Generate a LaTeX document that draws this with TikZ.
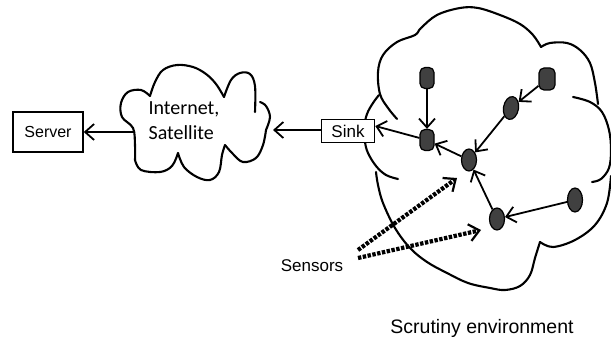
\documentclass[tikz,border=0pt]{standalone}
\usepackage{fontspec}
\setmainfont{Liberation Sans}
\newfontfamily\carlito{Carlito}
\usetikzlibrary{arrows.meta,shapes.geometric,calc}

\tikzset{
  cloudline/.style={line width=2.1pt, line cap=round, line join=round},
  boxnode/.style={draw, line width=1.5pt, inner sep=0pt, fill=white},
  arr/.style={line width=1.8pt, -{Straight Barb[length=9pt,width=16pt,line width=1.8pt]}},
  dotarr/.style={line width=4.2pt, dash pattern=on 3.4pt off 1.5pt,
    -{Straight Barb[length=10pt,width=17pt,line width=2.2pt]}},
  sensor/.style={draw, line width=1.2pt, fill=black!75, ellipse, inner sep=0pt,
    minimum width=15pt, minimum height=22pt},
  sensorbox/.style={draw, line width=1.2pt, fill=black!75, rectangle, rounded corners=5pt,
    inner sep=0pt, minimum width=14pt, minimum height=21pt},
}

\begin{document}
\begin{tikzpicture}[x=1pt, y=-1pt]
\useasboundingbox (0,0) rectangle (611,345);

% ---- Internet / satellite cloud ----
\draw[cloudline] plot[smooth, tension=0.6] coordinates {(255,112) (255,86) (250,74) (240,73) (231,80) (224,97)};
\draw[cloudline] plot[smooth, tension=0.6] coordinates {(224,97) (216,84) (206,74) (193,67) (177,65) (163,70) (155,82) (150,96)};
\draw[cloudline] plot[smooth, tension=0.6] coordinates {(150,96) (141,90) (128,92) (121,103) (122,117) (133,128) (135,145) (135,160)};
\draw[cloudline] plot[smooth, tension=0.6] coordinates {(135,160) (141,170) (160,172) (172,166) (178,153)};
\draw[cloudline] plot[smooth, tension=0.6] coordinates {(178,153) (184,167) (197,177) (210,180) (219,172) (222,155) (225,145)};
\draw[cloudline] plot[smooth, tension=0.6] coordinates {(225,145) (233,154) (243,162) (256,158) (263,145) (266,130)};
\draw[cloudline] plot[smooth, tension=0.6] coordinates {(266,130) (270,117) (266,106) (260,102)};

\node[fill=white, inner sep=1pt, align=left, font=\carlito\fontsize{20}{25}\selectfont]
  (inet) at (184,121) {Internet,\\Satellite};

% ---- scrutiny environment cloud ----
\draw[cloudline] plot[smooth, tension=0.6] coordinates {(397,119) (388,108) (380,94) (378,72) (383,55) (397,42) (415,35) (421,28) (437,15) (460,8) (478,8) (500,15) (520,24) (533,35) (541,47)};
\draw[cloudline] plot[smooth, tension=0.6] coordinates {(541,47) (550,43) (567,43) (580,50) (590,63) (595,83) (598,104)};
\draw[cloudline] plot[smooth, tension=0.6] coordinates {(573,97) (590,102) (602,112) (609,130) (611,150) (609,168) (601,179) (592,182)};
\draw[cloudline] plot[smooth, tension=0.6] coordinates {(611,176) (607,203) (595,225) (575,240) (553,247) (540,242)};
\draw[cloudline] plot[smooth, tension=0.6] coordinates {(540,242) (535,258) (530,275) (520,286) (505,290) (490,288) (468,283) (447,273) (427,262) (410,248) (395,228) (383,203) (378,185) (376,172)};
\draw[cloudline] plot[smooth, tension=0.6] coordinates {(379,95) (373,103) (367,114) (364,128) (365,142) (368,153) (376,166) (386,175) (398,179)};

% ---- boxes ----
\node[boxnode, minimum width=70pt, minimum height=40pt] (server) at (48,132)
  {\fontsize{16}{18}\selectfont Server};
\node[boxnode, minimum width=53pt, minimum height=23pt] (sink) at (348,131)
  {\fontsize{17}{18}\selectfont Sink};

% ---- sensors ----
\node[sensorbox] (s1) at (427,78) {};
\node[sensorbox, minimum width=16pt, minimum height=22pt] (s2) at (547,79) {};
\node[sensor, minimum height=23pt, rotate=-10] (s3) at (511,108) {};
\node[sensorbox] (s4) at (427,140) {};
\node[sensor] (s5) at (469,160) {};
\node[sensor] (s6) at (497,219) {};
\node[sensor, minimum height=24pt] (s7) at (575,200) {};

% ---- links ----
\coordinate (inetE) at (273,130);
\coordinate (inetW) at (135,132);
\draw[arr] (sink.west |- inetE) -- (inetE);
\draw[arr] (inetW) -- (server.east);
\draw[arr] (s4) -- ([yshift=5pt]sink.east);
\draw[arr] (s1) -- (s4);
\draw[arr] (s2) -- (s3);
\draw[arr] (s3) -- (s5);
\draw[arr] (s5) -- (s4);
\draw[arr] (s6) -- (s5);
\draw[arr] (s7) -- (s6);

% ---- labels ----
\node[font=\fontsize{17}{18}\selectfont] (sensors) at (312,266) {Sensors};
\coordinate (d1a) at (358,250);
\coordinate (d1b) at (457,178);
\coordinate (d2a) at (358,258);
\coordinate (d2b) at (481,230);
\draw[dotarr] (d1a) -- (d1b);
\draw[dotarr] (d2a) -- (d2b);

\node[font=\fontsize{19.5}{22}\selectfont] (env) at (482,328) {Scrutiny environment};
\end{tikzpicture}
\end{document}
